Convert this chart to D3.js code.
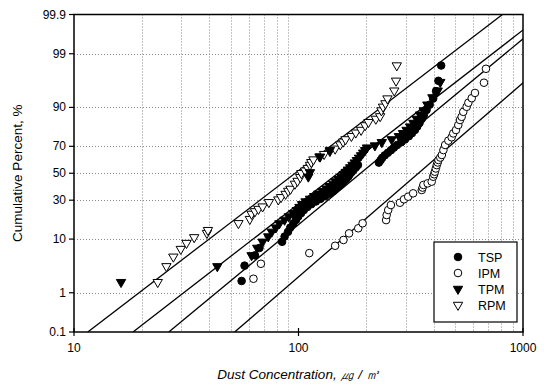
<!DOCTYPE html>
<html>
<head>
<meta charset="utf-8">
<script src="https://cdn.jsdelivr.net/npm/d3@7"></script>
<style>
body { margin: 0; background: #fff; }
text { font-family: Arial, "Liberation Sans", Helvetica, sans-serif; fill: #000; }
</style>
</head>
<body>
<svg id="chart" width="547" height="385"></svg>
<script>
// ---- data ----
var xTicks = [10, 100, 1000];
var xGrid = [20, 30, 40, 50, 60, 70, 80, 90, 200, 300, 400, 500, 600, 700, 800, 900];
var yTicks = [0.1, 1, 10, 30, 50, 70, 90, 99, 99.9];
var yTickLabels = ["0.1", "1", "10", "30", "50", "70", "90", "99", "99.9"];
var yGrid = [1, 10, 30, 50, 70, 90, 99];

var seriesNames = ["TSP", "IPM", "TPM", "RPM"];

var tspConc = [55.8,57.5,64,67,84.5,86.7,89.8,91.9,94.8,97.5,99.8,102.6,105.5,109.4,114,119.5,125.3,131.4,137.6,142.7,146.4,150.8,155.3,159,163,166.5,169,172.5,176,180,184,228,232,236,242,250,258,266,275,287,298,310,320,330,338,346,354,362,372,384,398,410,420,432];
var tspPct = [1.8,3.6,5.5,7.3,9.1,10.9,12.7,14.5,16.4,18.2,20,21.8,23.6,25.5,27.3,29.1,30.9,32.7,34.5,36.4,38.2,40,41.8,43.6,45.5,47.3,49.1,50.9,52.7,54.5,56.4,58.2,60,61.8,63.6,65.5,67.3,69.1,70.9,72.7,74.5,76.4,78.2,80,81.8,83.6,85.5,87.3,89.1,90.9,92.7,94.5,96.4,98.2];

var ipmConc = [63,68,111.7,145.6,158.6,168,184.6,193,245.6,247,251,258,283,295,308,324,354,357,360,376,392,398,402,405,409,413,417,420,428,435,442,450,465,481,489,503,515,524,533,542,561,571,591,611,670,684];
var ipmPct = [2.0,3.9,6.0,7.9,9.7,12.1,14.2,16.5,18.1,20.8,23.7,26.8,28.3,30.6,32.4,34.8,37.2,39,41,42.2,43.5,47.3,49.2,51.2,53.7,56.3,58.3,60.2,62,63.9,67.4,70.9,73.7,75.8,78.1,80,82.6,85,86.4,88.4,90.2,91.5,92.8,94.1,96.1,97.9];

var tpmConc = [16.2,43.5,61.8,65.5,69.2,73.3,76,79.3,82.2,86.7,90.6,94.8,98.3,101,103.7,107.5,112.6,117.5,122.5,128,133.2,137.6,142.7,146.4,150.8,155.3,159,162.3,166,170,174,178,182,186,190,194,198,202,219,235,260,280,292,303,314,325,336,348,361,375,395,417,428,110.6,112.5,124.7,138];
var tpmPct = [1.7,3.5,5.5,7.3,9.1,10.9,12.7,14.5,16.4,18.2,20,21.8,23.6,25.5,27.3,29.1,30.9,32.7,34.5,36.4,38.2,40,41.8,43.6,45.5,47.3,49.1,50.9,52.7,54.5,56.4,58.2,60,61.8,63.6,65.5,67.3,69.1,70.5,72.7,74.5,76.4,78.2,80,81.8,83.6,85.5,87.3,88.9,90.9,93,94.6,96.2,47.3,50.7,62.6,67.4];

var rpmConc = [23.6,25.8,27.7,29.9,31.7,34.3,39.1,39.5,54,60.7,61.8,64,66.3,69.2,73.8,81.3,83.6,87.6,90,92.1,96.4,99,101.8,103,107,110,112.5,114,116.5,124,130,138,145.6,153.5,158,162,172,180,190,198,205,221,231,234,238,244,249,267,272,274];
var rpmPct = [1.7,3.5,5.2,7.0,8.7,10.6,12.2,13.4,16.5,18.6,21.4,22.9,24.3,25.8,28.6,30.4,32,34.3,36.5,38,41.8,44,46.9,50,52,54,56.4,58.5,60.5,62.7,64.5,66.6,68.3,71.2,73,74.5,76.5,78.5,80,82.4,84,85.5,86.6,88.9,90.2,91.3,92.7,94.6,96.4,98.2];

// fitted log-normal lines (geometric mean, geometric std dev)
var fitGM = [96.6, 150, 189, 342];
var fitGSD = [1.99, 1.975, 1.89, 1.84];

// ---- probability transform ----
function probit(p) {
    var a = [-3.969683028665376e+01, 2.209460984245205e+02, -2.759285104469687e+02, 1.383577518672690e+02, -3.066479806614716e+01, 2.506628277459239e+00];
    var b = [-5.447609879822406e+01, 1.615858368580409e+02, -1.556989798598866e+02, 6.680131188771972e+01, -1.328068155288572e+01];
    var c = [-7.784894002430293e-03, -3.223964580411365e-01, -2.400758277161838e+00, -2.549732539343734e+00, 4.374664141464968e+00, 2.938163982698783e+00];
    var d = [7.784695709041462e-03, 3.224671290700398e-01, 2.445134137142996e+00, 3.754408661907416e+00];
    var q, r;
    if (p < 0.02425) {
        q = Math.sqrt(-2 * Math.log(p));
        return (((((c[0]*q+c[1])*q+c[2])*q+c[3])*q+c[4])*q+c[5]) / ((((d[0]*q+d[1])*q+d[2])*q+d[3])*q+1);
    } else if (p > 1 - 0.02425) {
        q = Math.sqrt(-2 * Math.log(1 - p));
        return -(((((c[0]*q+c[1])*q+c[2])*q+c[3])*q+c[4])*q+c[5]) / ((((d[0]*q+d[1])*q+d[2])*q+d[3])*q+1);
    }
    q = p - 0.5; r = q * q;
    return (((((a[0]*r+a[1])*r+a[2])*r+a[3])*r+a[4])*r+a[5])*q / (((((b[0]*r+b[1])*r+b[2])*r+b[3])*r+b[4])*r+1);
}

var plotL = 74, plotR = 523, plotT = 14.5, plotB = 332;
var svg = d3.select("#chart");

var x = d3.scaleLog().domain([10, 1000]).range([plotL, plotR]);
var zScale = d3.scaleLinear().domain([probit(0.001), probit(0.999)]).range([plotB, plotT]);
function y(pct) { return zScale(probit(pct / 100)); }

// grid
var grid = svg.append("g").attr("stroke", "#8a8a8a").attr("stroke-width", 1).attr("stroke-dasharray", "1,2");
grid.selectAll("line.v").data(xGrid).enter().append("line")
    .attr("x1", function(d){ return Math.round(x(d)) + 0.5; })
    .attr("x2", function(d){ return Math.round(x(d)) + 0.5; })
    .attr("y1", plotT).attr("y2", plotB);
grid.selectAll("line.h").data(yGrid).enter().append("line")
    .attr("y1", function(d){ return Math.round(y(d)) + 0.5; })
    .attr("y2", function(d){ return Math.round(y(d)) + 0.5; })
    .attr("x1", plotL).attr("x2", plotR);

// fitted lines
svg.append("clipPath").attr("id", "plotClip").append("rect")
    .attr("x", plotL).attr("y", plotT).attr("width", plotR - plotL).attr("height", plotB - plotT);
var zLo = probit(0.001), zHi = probit(0.999);
var fitLine = d3.line()
    .x(function(d){ return x(d[0]); })
    .y(function(d){ return zScale(d[1]); });
svg.append("g").attr("clip-path", "url(#plotClip)")
    .selectAll("path").data(fitGM).enter().append("path")
    .attr("d", function(gm, i){
        var pts = [zLo, zHi].map(function(z){ return [gm * Math.pow(fitGSD[i], z), z]; });
        return fitLine(pts);
    })
    .attr("fill", "none").attr("stroke", "#000").attr("stroke-width", 1.3);

// markers
var triDown = d3.symbol().type(d3.symbolTriangle).size(38);
function drawSeries(conc, pct, kind) {
    var pts = conc.map(function(c, i){ return [c, pct[i]]; });
    var g = svg.append("g");
    if (kind == "circle" || kind == "ocircle") {
        g.selectAll("circle").data(pts).enter().append("circle")
            .attr("cx", function(d){ return x(d[0]); })
            .attr("cy", function(d){ return y(d[1]); })
            .attr("r", 3.8)
            .attr("fill", kind == "circle" ? "#000" : "#fff")
            .attr("stroke", "#000").attr("stroke-width", 1);
    } else {
        g.selectAll("path").data(pts).enter().append("path")
            .attr("d", triDown)
            .attr("transform", function(d){ return "translate(" + x(d[0]) + "," + y(d[1]) + ") rotate(180)"; })
            .attr("fill", kind == "tri" ? "#000" : "#fff")
            .attr("stroke", "#000").attr("stroke-width", 1);
    }
}
drawSeries(rpmConc, rpmPct, "otri");
drawSeries(ipmConc, ipmPct, "ocircle");
drawSeries(tpmConc, tpmPct, "tri");
drawSeries(tspConc, tspPct, "circle");

// frame
svg.append("rect").attr("x", plotL).attr("y", plotT).attr("width", plotR - plotL).attr("height", plotB - plotT)
    .attr("fill", "none").attr("stroke", "#000").attr("stroke-width", 1.5);

// y ticks and labels
svg.selectAll("line.yt").data(yTicks).enter().append("line")
    .attr("x1", plotL - 5).attr("x2", plotL)
    .attr("y1", function(d){ return y(d); }).attr("y2", function(d){ return y(d); })
    .attr("stroke", "#000").attr("stroke-width", 1.2);
svg.selectAll("text.yl").data(yTicks).enter().append("text")
    .attr("x", plotL - 8)
    .attr("y", function(d){ return y(d) + 4; })
    .attr("text-anchor", "end")
    .style("font-size", "12px")
    .text(function(d, i){ return yTickLabels[i]; });

// x ticks and labels
svg.selectAll("line.xt").data(xTicks).enter().append("line")
    .attr("x1", function(d){ return x(d); }).attr("x2", function(d){ return x(d); })
    .attr("y1", plotB - 4).attr("y2", plotB + 4)
    .attr("stroke", "#000").attr("stroke-width", 1.2);
svg.selectAll("text.xl").data(xTicks).enter().append("text")
    .attr("x", function(d){ return x(d); })
    .attr("y", plotB + 20)
    .attr("text-anchor", "middle")
    .style("font-size", "12px")
    .text(function(d){ return d; });

// axis titles
svg.append("text")
    .attr("transform", "translate(22," + ((plotT + plotB) / 2) + ") rotate(-90)")
    .attr("text-anchor", "middle")
    .style("font-size", "13.5px")
    .text("Cumulative Percent, %");
svg.append("text")
    .attr("x", (plotL + plotR) / 2)
    .attr("y", 379)
    .attr("text-anchor", "middle")
    .style("font-size", "13.5px")
    .style("font-style", "italic")
    .text("Dust Concentration, \u338D / \u33A5");

// legend
var legend = svg.append("g");
legend.append("rect").attr("x", 434).attr("y", 242).attr("width", 83).attr("height", 80)
    .attr("fill", "#fff").attr("stroke", "#000").attr("stroke-width", 1.2);
var legendKinds = ["circle", "ocircle", "tri", "otri"];
seriesNames.forEach(function(name, i){
    var ly = 257 + i * 16;
    var k = legendKinds[i];
    if (k == "circle" || k == "ocircle") {
        legend.append("circle").attr("cx", 458).attr("cy", ly).attr("r", 3.8)
            .attr("fill", k == "circle" ? "#000" : "#fff").attr("stroke", "#000");
    } else {
        legend.append("path").attr("d", triDown)
            .attr("transform", "translate(458," + ly + ") rotate(180)")
            .attr("fill", k == "tri" ? "#000" : "#fff").attr("stroke", "#000");
    }
    legend.append("text").attr("x", 478).attr("y", ly + 4.5)
        .style("font-size", "12.5px")
        .text(name);
});
</script>
</body>
</html>
